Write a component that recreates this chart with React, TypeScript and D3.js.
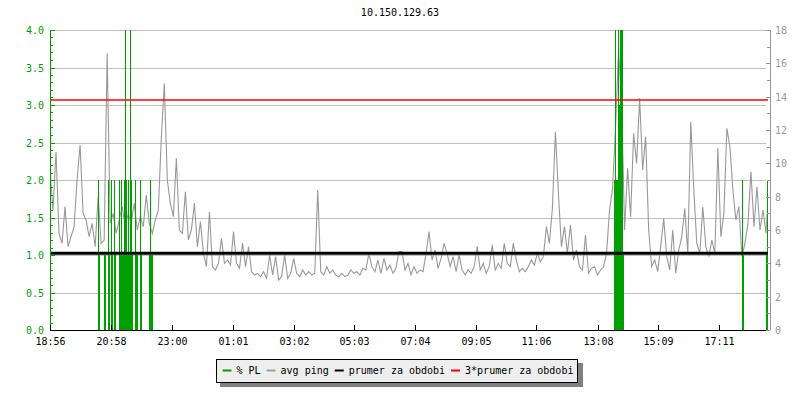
import React from 'react';
import * as d3 from 'd3';

const title = '10.150.129.63';
const timeLabels = ['18:56', '20:58', '23:00', '01:01', '03:02', '05:03', '07:04', '09:05', '11:06', '13:08', '15:09', '17:11'];
const spanMinutes = 1432;
const pingStep = 6; // minutes between avg ping samples

// avg ping in ms (right axis)
const avgPing = [
  9.6, 7.2, 10.7, 5.8, 5.2, 7.4, 5.0, 5.6, 6.2, 9.0, 11.1, 7.0, 6.6, 5.6, 6.4, 5.0, 8.0, 5.2, 5.4, 16.6,
  6.4, 7.0, 5.8, 6.6, 7.4, 6.2, 7.0, 6.4, 7.6, 6.0, 6.8, 6.2, 8.1, 6.4, 5.8, 6.6, 7.2, 11.5, 14.8, 9.0,
  7.6, 6.8, 10.3, 6.0, 5.8, 8.3, 5.4, 6.0, 7.6, 5.0, 6.5, 4.6, 3.8, 7.1, 3.8, 3.6, 4.0, 5.5, 4.0, 4.2,
  3.9, 5.9, 4.0, 3.7, 5.2, 3.8, 5.0, 3.5, 3.3, 3.4, 3.2, 3.5, 3.1, 4.5, 3.3, 4.4, 3.0, 3.2, 4.5, 3.1,
  3.4, 4.3, 3.4, 3.2, 3.6, 3.3, 3.5, 3.3, 3.4, 8.4, 3.5, 3.3, 3.8, 3.4, 3.6, 3.3, 3.2, 3.4, 3.2, 3.3,
  3.6, 3.4, 3.5, 3.3, 3.7, 3.6, 4.6, 3.8, 3.5, 4.2, 3.4, 4.3, 3.6, 3.9, 3.4, 3.7, 4.7, 4.7, 3.6, 4.0,
  3.3, 3.8, 3.4, 3.6, 3.5, 4.6, 5.9, 4.2, 4.8, 3.7, 4.3, 5.2, 4.6, 3.8, 4.4, 3.5, 4.5, 3.6, 3.3, 3.6,
  3.4, 3.8, 5.0, 3.6, 4.0, 3.4, 3.8, 5.1, 3.6, 4.0, 3.7, 5.2, 4.0, 3.8, 5.2, 4.2, 3.5, 3.7, 3.5, 3.8,
  4.2, 3.9, 4.6, 4.1, 4.4, 6.2, 5.2, 7.3, 11.9, 8.2, 5.0, 6.2, 4.6, 6.3, 4.2, 4.8, 3.8, 3.6, 5.7, 3.4,
  3.7, 3.8, 3.3, 3.6, 3.8, 4.6, 7.2, 8.5, 12.2, 16.8, 13.6, 6.0, 9.7, 6.8, 11.8, 10.0, 13.9, 9.6, 11.6, 6.0,
  3.8, 4.2, 3.5, 5.0, 6.7, 4.4, 3.6, 6.0, 3.4, 4.8, 5.6, 7.3, 4.6, 12.5, 8.4, 5.2, 4.6, 7.4, 5.0, 4.4,
  5.4, 4.6, 10.9, 5.6, 7.0, 12.1, 11.0, 8.4, 6.6, 7.4, 4.4, 5.2, 6.4, 9.5, 6.2, 8.6, 6.0, 7.2, 5.8, 8.8,
];

// % packet loss: [minutes since start, value] (left axis)
const packetLoss: [number, number][] = [
  [96, 2], [98, 1], [108, 1], [110, 1], [116, 2], [118, 1], [122, 2], [124, 1], [128, 2], [130, 1],
  [138, 2], [140, 1], [142, 2], [144, 1], [146, 1], [148, 2], [150, 6], [152, 2], [154, 1], [156, 2],
  [158, 1], [160, 6], [162, 2], [164, 1], [170, 2], [172, 1], [174, 1], [180, 2], [182, 1],
  [198, 1], [200, 2], [202, 1], [204, 1],
  [1124, 2], [1126, 6], [1128, 2], [1130, 2], [1132, 6], [1134, 3], [1136, 6], [1138, 6], [1140, 6], [1142, 1],
  [1380, 2], [1382, 1], [1428, 1], [1430, 2],
];

const periodMean = 4.6;
const legendLabels = ['% PL', 'avg ping', 'prumer za obdobi', '3*prumer za obdobi'];

const GREEN = '#00a000';
const GRAY = '#999999';
const legendColors = [GREEN, '#a0a0a0', '#000000', '#ff0000'];

const font = '"DejaVu Sans Mono", monospace';

function toMinutes(label: string) {
  const [h, m] = label.split(':').map(Number);
  const [h0, m0] = timeLabels[0].split(':').map(Number);
  return (h * 60 + m - (h0 * 60 + m0) + 1440) % 1440;
}

export default function App() {
  const left = 50;
  const right = 768;
  const top = 30;
  const bottom = 330;

  const x = d3.scaleLinear().domain([0, spanMinutes]).range([left, right]);
  const yL = d3.scaleLinear().domain([0, 4]).range([bottom, top]);
  const yR = d3.scaleLinear().domain([0, 18]).range([bottom, top]);

  const pingLine = d3
    .line<number>()
    .x((d, i) => x(i * pingStep))
    .y(d => yR(d));

  const gridTicks = d3.range(0, 4.01, 0.5);
  const minorL = d3.range(0, 4.01, 0.1);
  const minorR = d3.range(0, 18.01, 1);
  const majorR = d3.range(0, 18.01, 2);

  // legend layout
  let lx = 222.5;
  const legend = legendLabels.map((label, i) => {
    const item = { label, color: legendColors[i], x: lx };
    lx += 14 + label.length * 6.02 + 6;
    return item;
  });

  return (
    <svg
      width={800}
      height={400}
      style={{ position: 'absolute', left: 0, top: 0, background: '#fff' }}
      fontFamily={font}
      fontSize={10}
    >
      <defs>
        <clipPath id="plot">
          <rect x={left} y={top} width={right - left} height={bottom - top} />
        </clipPath>
      </defs>

      <text x={400} y={13} textAnchor="middle" dominantBaseline="middle" fill="#000">
        {title}
      </text>

      {/* grid */}
      {gridTicks.map(t => (
        <line key={t} x1={left} x2={right - 2} y1={Math.round(yL(t)) + 0.5} y2={Math.round(yL(t)) + 0.5} stroke="#c0c0c0" />
      ))}

      {/* avg ping */}
      <path d={pingLine(avgPing) ?? ''} fill="none" stroke={GRAY} strokeWidth={1.1} clipPath="url(#plot)" />

      {/* % PL */}
      <g clipPath="url(#plot)" shapeRendering="crispEdges">
        {packetLoss.map(([m, v]) => (
          <rect
            key={m}
            x={x(m)}
            width={x(m + 2) - x(m)}
            y={yL(Math.min(v, 4))}
            height={bottom - yL(Math.min(v, 4))}
            fill={GREEN}
          />
        ))}
      </g>

      {/* mean lines */}
      <line x1={left} x2={right} y1={yR(periodMean)} y2={yR(periodMean)} stroke="#000" strokeWidth={3} />
      <line x1={left} x2={right} y1={yR(periodMean * 3)} y2={yR(periodMean * 3)} stroke="#ff0000" strokeWidth={1.5} />

      {/* left axis */}
      <line x1={left + 0.5} x2={left + 0.5} y1={top} y2={bottom} stroke={GREEN} strokeWidth={1} />
      {minorL.map(t => {
        const major = Math.abs(t * 2 - Math.round(t * 2)) < 1e-6;
        const yy = Math.round(yL(t)) + 0.5;
        return <line key={t} x1={left} x2={left + (major ? 5 : 3)} y1={yy} y2={yy} stroke={GREEN} />;
      })}
      {gridTicks.map(t => (
        <text key={t} x={44} y={yL(t) + 1} textAnchor="end" dominantBaseline="middle" fill={GREEN}>
          {t.toFixed(1)}
        </text>
      ))}

      {/* right axis */}
      <line x1={770.5} x2={770.5} y1={top} y2={bottom} stroke={GRAY} />
      {minorR.map(t => {
        const yy = Math.round(yR(t)) + 0.5;
        return <line key={t} x1={t % 2 === 0 ? 766 : 767} x2={770} y1={yy} y2={yy} stroke={GRAY} />;
      })}
      {majorR.map(t => (
        <text key={t} x={775} y={yR(t) + 1} dominantBaseline="middle" fill={GRAY}>
          {t}
        </text>
      ))}

      {/* bottom axis */}
      <line x1={left} x2={right - 2} y1={bottom + 0.5} y2={bottom + 0.5} stroke="#000" />
      {timeLabels.map(l => {
        const xx = Math.round(x(toMinutes(l))) + 0.5;
        return (
          <g key={l}>
            <line x1={xx} x2={xx} y1={bottom - 5} y2={bottom} stroke="#000" />
            <text x={xx} y={342} textAnchor="middle" dominantBaseline="middle" fill="#000">
              {l}
            </text>
          </g>
        );
      })}

      {/* legend */}
      <rect x={220} y={363} width={363} height={24} fill="#808080" />
      <rect x={216.5} y={359.5} width={361} height={23} fill="#eeeeee" stroke="#000" />
      {legend.map(item => (
        <g key={item.label}>
          <line x1={item.x} x2={item.x + 9} y1={370.5} y2={370.5} stroke={item.color} strokeWidth={2} />
          <text x={item.x + 14} y={370.5} dominantBaseline="middle" fill="#000">
            {item.label}
          </text>
        </g>
      ))}
    </svg>
  );
}
